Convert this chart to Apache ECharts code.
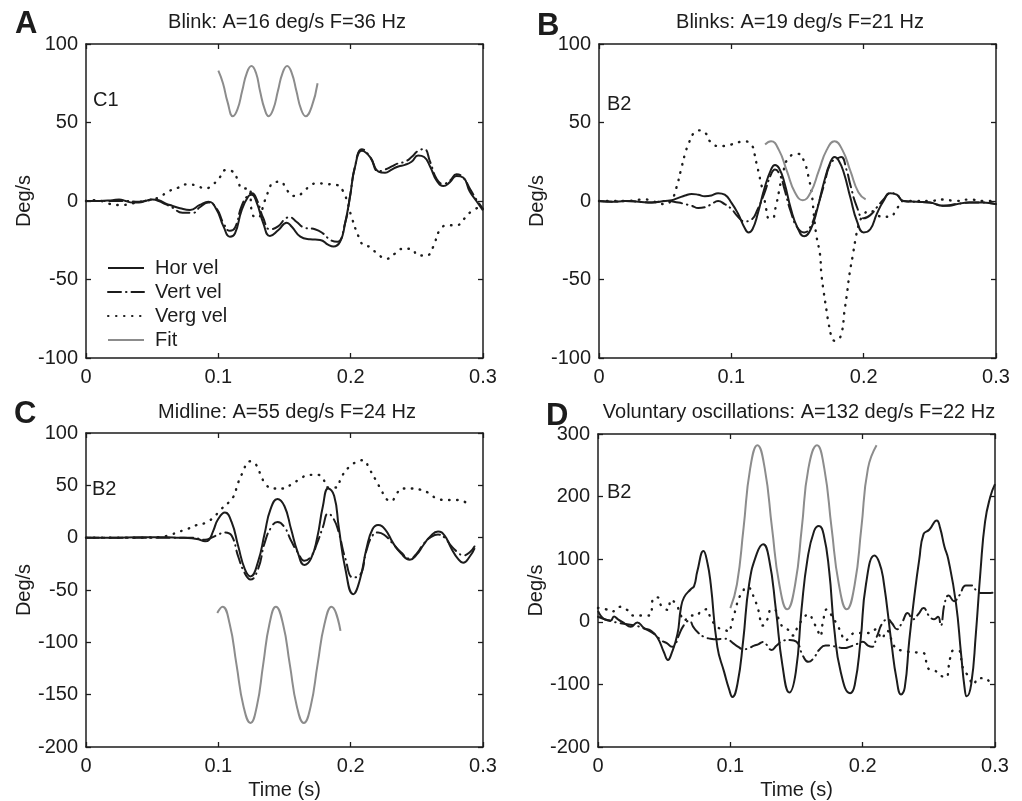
<!DOCTYPE html>
<html>
<head>
<meta charset="utf-8">
<script src="https://cdn.jsdelivr.net/npm/echarts@6/dist/echarts.min.js"></script>
<style>
html, body { margin: 0; padding: 0; background: #fff; }
#main { width: 1022px; height: 801px; }
</style>
</head>
<body>
<div id="main"></div>
<script>
// ---- panel A : blink, C1 ----
var horA = [[0,0],[0.01,0],[0.02,0.5],[0.025,1],[0.03,0],[0.035,-1],[0.04,-1],[0.045,0],[0.05,1],[0.055,0.5],[0.06,-1.5],[0.065,-3],[0.071,-4.6],[0.0786,-5.7],[0.086,-2.5],[0.0925,-0.4],[0.0988,-5.7],[0.1038,-16],[0.1088,-22.7],[0.1126,-20.6],[0.1177,-5.7],[0.1227,3],[0.1252,4],[0.129,-1],[0.134,-14.2],[0.139,-22.3],[0.1454,-18.5],[0.1517,-13.8],[0.1555,-16.4],[0.162,-22.7],[0.1693,-24.4],[0.1769,-24.8],[0.1832,-28],[0.187,-29],[0.192,-26],[0.1958,-14.2],[0.1995,2.7],[0.2033,21.8],[0.2084,32],[0.2147,28],[0.221,18.7],[0.226,18],[0.231,20],[0.236,22],[0.241,23],[0.246,25],[0.251,29],[0.2555,28],[0.26,22],[0.265,13],[0.27,9.5],[0.275,12],[0.28,16],[0.285,15],[0.29,6],[0.295,0],[0.3,-6]];
var vertA = [[0,0],[0.01,0],[0.02,0],[0.03,0],[0.04,-0.5],[0.05,1],[0.055,0],[0.06,-2],[0.065,-4],[0.073,-7.5],[0.081,-7.5],[0.086,-4],[0.0925,-1],[0.0988,-5],[0.1038,-14],[0.1088,-19],[0.1126,-17],[0.1177,-3],[0.1227,4],[0.1255,5],[0.129,1],[0.134,-11],[0.139,-18],[0.1454,-16],[0.151,-11],[0.154,-10.4],[0.159,-13.2],[0.165,-17],[0.173,-18],[0.179,-20.6],[0.185,-25],[0.19,-26],[0.1958,-14],[0.1995,3],[0.2033,22],[0.2084,33],[0.2147,28],[0.221,19],[0.226,20],[0.231,22],[0.236,24],[0.241,25],[0.246,28],[0.251,32],[0.2555,33],[0.26,25],[0.265,14],[0.27,11],[0.275,13],[0.28,17],[0.285,15],[0.29,8],[0.295,1],[0.3,-5]];
var vergA = [[0,0],[0.008,0.6],[0.015,-1],[0.022,-2.5],[0.028,-2.5],[0.035,-1.5],[0.042,-0.4],[0.05,1],[0.056,2.7],[0.062,6],[0.0697,8.5],[0.076,10.6],[0.083,10],[0.09,8],[0.096,10.6],[0.101,15],[0.1056,19.7],[0.111,18.7],[0.1147,13.4],[0.118,8],[0.1235,8],[0.1255,-8],[0.1295,-10.6],[0.1353,0.6],[0.1378,6],[0.1416,11.7],[0.147,12.3],[0.1517,7],[0.1575,3.2],[0.164,5.3],[0.169,9.6],[0.175,11.3],[0.182,10.8],[0.1895,10.2],[0.1945,6],[0.197,0.6],[0.201,-11],[0.206,-22.7],[0.2095,-28],[0.2144,-29.3],[0.2207,-34],[0.227,-36.8],[0.2333,-33.6],[0.2396,-30.4],[0.2459,-30.4],[0.251,-34.7],[0.2572,-34.7],[0.2623,-29.3],[0.2673,-18.6],[0.2736,-15.4],[0.28,-15.4],[0.2862,-11],[0.2925,-5.8],[0.3,-3.6]];
var fitA = [[0.1,83],[0.1035,75],[0.107,63],[0.111,54],[0.1145,58.5],[0.118,70],[0.1215,81.5],[0.125,86],[0.1285,81.5],[0.1315,70],[0.135,58.5],[0.138,54],[0.1415,58.5],[0.145,70],[0.1485,81.5],[0.152,86],[0.1555,81.5],[0.159,70],[0.1625,58.5],[0.166,54],[0.1705,60],[0.175,75]];

// ---- panel B : blinks, B2 ----
var horB = [[0,0],[0.01,-0.5],[0.02,0],[0.03,-0.5],[0.04,-1],[0.05,0],[0.055,0.5],[0.06,2],[0.065,3.5],[0.07,4.5],[0.075,4],[0.08,3],[0.085,3.5],[0.09,5],[0.095,4],[0.1,-1],[0.105,-8],[0.11,-17],[0.113,-20],[0.116,-18],[0.12,-8],[0.125,8],[0.13,20],[0.133,23],[0.136,21],[0.14,12],[0.145,-5],[0.15,-17],[0.155,-22.5],[0.16,-18],[0.165,-5],[0.17,12],[0.175,25],[0.178,28],[0.181,26],[0.185,18],[0.19,2],[0.195,-13],[0.2,-20],[0.205,-18],[0.21,-8],[0.215,0],[0.22,5],[0.225,4],[0.23,0],[0.24,-0.5],[0.25,-1],[0.26,-3],[0.265,-3],[0.27,-2],[0.28,-1],[0.29,-1],[0.3,-2]];
var vertB = [[0,0],[0.01,-0.5],[0.02,0],[0.03,-0.5],[0.04,-1],[0.05,0],[0.06,-1],[0.065,-2],[0.07,-3],[0.075,-4.5],[0.08,-4],[0.085,-2],[0.09,0],[0.095,-2],[0.1,-5],[0.105,-10],[0.11,-13],[0.115,-12],[0.12,-5],[0.125,5],[0.13,17],[0.133,20],[0.137,16],[0.14,8],[0.145,-7],[0.15,-17],[0.155,-20],[0.16,-16],[0.165,-4],[0.17,10],[0.175,24],[0.18,27],[0.183,28],[0.187,20],[0.19,10],[0.195,-4],[0.2,-11],[0.205,-9],[0.21,-4],[0.215,1],[0.22,5],[0.225,4],[0.23,0],[0.24,-0.5],[0.25,-1],[0.26,-3],[0.27,-2],[0.28,-1],[0.29,-1],[0.3,-2]];
var vergB = [[0,0],[0.01,0],[0.02,0],[0.035,1],[0.04,0],[0.05,-2],[0.055,1],[0.0583,8],[0.062,20],[0.065,30],[0.0675,36],[0.0713,43],[0.075,45],[0.0807,43],[0.0839,38],[0.09,35],[0.095,35],[0.1,36],[0.1104,38],[0.1158,35],[0.1175,30],[0.119,24],[0.1207,18],[0.1225,11],[0.1243,5],[0.1263,-5],[0.1285,-11],[0.131,-11],[0.1335,-4],[0.136,6],[0.139,18],[0.1438,28],[0.1505,30],[0.1556,24],[0.1573,18.7],[0.159,13],[0.161,3],[0.1625,-10],[0.1644,-22.7],[0.167,-34],[0.168,-46],[0.17,-59],[0.172,-70],[0.1735,-78],[0.176,-87],[0.178,-89],[0.1805,-88.5],[0.1836,-83],[0.1853,-71.5],[0.1874,-59],[0.1894,-46],[0.1917,-35],[0.1937,-25],[0.196,-16],[0.199,-10],[0.205,-6],[0.21,-9],[0.215,-10],[0.22,-10],[0.225,-5],[0.23,0],[0.24,0],[0.25,0],[0.26,1],[0.27,0],[0.28,1],[0.29,0],[0.3,0]];
var fitB = [[0.1255,36],[0.13,38],[0.136,32.4],[0.142,19],[0.148,5.6],[0.154,0.5],[0.16,5.6],[0.166,19],[0.172,32.4],[0.178,38],[0.184,32.4],[0.19,19],[0.196,5.6],[0.2015,1]];

// ---- panel C : midline, B2 ----
var horC = [[0,0],[0.02,0],[0.04,0.5],[0.06,0.5],[0.07,0],[0.08,-0.5],[0.085,-1.5],[0.09,-3.5],[0.093,-2],[0.096,6],[0.1,18],[0.105,24],[0.11,15],[0.115,-8],[0.12,-30],[0.1243,-37],[0.13,-23],[0.135,4],[0.1394,27],[0.1447,37],[0.15,30],[0.155,8],[0.16,-14],[0.165,-26],[0.17,-20],[0.1747,0],[0.179,30],[0.183,47],[0.1875,40],[0.191,10],[0.196,-30],[0.2019,-54],[0.207,-40],[0.212,-10],[0.2165,8],[0.2207,12],[0.226,8],[0.232,-5],[0.238,-15],[0.2447,-21],[0.25,-16],[0.255,-7],[0.26,1],[0.266,6],[0.271,2],[0.276,-10],[0.281,-20],[0.285,-24],[0.29,-18],[0.2937,-10]];
var vertC = [[0,0],[0.02,0],[0.04,0],[0.06,0],[0.08,0],[0.09,-2],[0.095,0],[0.1,3],[0.105,5],[0.11,2],[0.115,-18],[0.12,-34],[0.1243,-40],[0.13,-30],[0.135,-5],[0.14,10],[0.1447,15],[0.15,10],[0.155,-3],[0.16,-14],[0.165,-22],[0.17,-18],[0.1747,-5],[0.179,10],[0.183,23],[0.1875,17],[0.191,5],[0.196,-20],[0.2019,-38],[0.207,-36],[0.212,-12],[0.2165,2],[0.2207,5],[0.226,2],[0.232,-6],[0.238,-14],[0.2447,-20],[0.25,-15],[0.255,-6],[0.26,0],[0.266,3],[0.271,0],[0.276,-8],[0.281,-14],[0.285,-17],[0.29,-14],[0.2937,-8]];
var vergC = [[0,0],[0.02,0],[0.04,0],[0.055,0.5],[0.0647,3],[0.0685,5],[0.076,8],[0.0836,12],[0.0899,14],[0.0961,19],[0.1012,26],[0.1113,39],[0.1143,50],[0.1175,60],[0.1243,73],[0.1289,69],[0.1326,58],[0.1364,50],[0.1415,47],[0.149,47],[0.1553,51],[0.1616,56],[0.1686,60],[0.1754,60],[0.1792,56],[0.183,48],[0.1893,48],[0.193,58],[0.1993,68],[0.2056,73],[0.2094,74],[0.2144,65],[0.219,55],[0.2233,45],[0.227,37],[0.2308,35],[0.2346,42],[0.2396,47],[0.2459,47],[0.2522,46],[0.2585,43],[0.266,37],[0.2723,36],[0.2799,36],[0.2849,35],[0.29,30]];
var fitC = [[0.0992,-72],[0.1032,-66],[0.1085,-82],[0.1137,-121],[0.119,-161],[0.1243,-177],[0.1291,-161],[0.1339,-121],[0.1387,-82],[0.1435,-66],[0.1488,-82],[0.154,-121],[0.1593,-161],[0.1646,-177],[0.1698,-161],[0.175,-121],[0.1803,-82],[0.1855,-66],[0.1923,-89]];

// ---- panel D : voluntary oscillations, B2 ----
var horD = [[0,17.5],[0.005,4],[0.0096,2],[0.0121,8.5],[0.0151,4],[0.0197,-2],[0.0247,-8],[0.0297,-1],[0.0348,-10],[0.0398,-14],[0.0449,-25],[0.0499,-49],[0.0529,-61],[0.055,-54],[0.06,-20],[0.0625,20],[0.065,39],[0.0701,52],[0.0726,57],[0.0751,81],[0.0797,113],[0.0827,94],[0.0852,60],[0.0902,-40],[0.0953,-80],[0.0991,-108],[0.1016,-120],[0.1054,-99],[0.1097,-30],[0.1142,60],[0.12,109],[0.1248,124],[0.1293,100],[0.1344,20],[0.1394,-70],[0.1446,-113],[0.1495,-80],[0.1538,20],[0.1583,100],[0.1633,145],[0.167,153],[0.1705,140],[0.1747,81],[0.1785,-11],[0.1835,-81],[0.1905,-114],[0.194,-101],[0.1984,-30],[0.2025,60],[0.209,106],[0.2125,95],[0.2156,68],[0.222,-38],[0.2255,-90],[0.229,-116],[0.2318,-105],[0.2352,-30],[0.239,40],[0.2428,100],[0.246,140],[0.2503,147],[0.256,162],[0.2585,150],[0.2618,120],[0.2647,100],[0.2705,30],[0.2743,-50],[0.277,-105],[0.2786,-119],[0.282,-100],[0.2855,-20],[0.289,80],[0.2925,160],[0.2965,200],[0.3,220]];
var vertD = [[0,8],[0.005,4],[0.01,1],[0.016,-2],[0.022,-4],[0.028,-6],[0.034,-10],[0.04,-16],[0.044,-22],[0.048,-30],[0.052,-34],[0.056,-40],[0.058,-38],[0.061,-22],[0.065,-5],[0.069,2],[0.072,-8],[0.075,-16],[0.08,-24],[0.085,-27],[0.09,-28],[0.095,-27],[0.098,-28],[0.102,-34],[0.106,-40],[0.11,-44],[0.114,-42],[0.118,-38],[0.121,-36],[0.125,-32],[0.128,-38],[0.131,-45],[0.135,-38],[0.14,-30],[0.145,-29],[0.15,-32],[0.155,-55],[0.159,-64],[0.163,-58],[0.167,-45],[0.172,-38],[0.176,-38],[0.18,-40],[0.186,-42],[0.19,-40],[0.195,-36],[0.2,-32],[0.204,-38],[0.207,-40],[0.211,-22],[0.215,-2],[0.219,4],[0.222,-2],[0.226,-12],[0.23,0],[0.234,14],[0.238,4],[0.242,12],[0.246,22],[0.25,10],[0.254,4],[0.257,8],[0.259,-6],[0.262,30],[0.265,42],[0.269,33],[0.273,42],[0.278,58],[0.282,58],[0.286,50],[0.29,46],[0.295,46],[0.3,47]];
var vergD = [[0,22],[0.006,20],[0.01,16],[0.017,24],[0.022,19],[0.027,10],[0.033,10],[0.039,10],[0.042,38],[0.045,39],[0.048,25],[0.053,19],[0.055,35],[0.059,28],[0.062,14],[0.065,2],[0.07,10],[0.074,10],[0.078,17],[0.082,20],[0.085,7],[0.09,-8],[0.096,-13],[0.099,-16],[0.101,-1],[0.103,12],[0.1045,25],[0.107,40],[0.1094,47],[0.1114,55],[0.115,53],[0.118,37],[0.1207,23],[0.122,9],[0.1245,-6],[0.128,4],[0.131,20],[0.1346,17.5],[0.1366,4],[0.14,-9],[0.1446,-14],[0.1472,-22],[0.151,-8],[0.155,5],[0.159,12],[0.163,-1],[0.166,-14],[0.168,-23],[0.17,0],[0.173,20],[0.176,12],[0.18,-2],[0.183,-14],[0.187,-30],[0.19,-25],[0.194,-18],[0.2,-18],[0.2056,-18],[0.21,-12],[0.2144,-27],[0.218,-14],[0.2245,-41],[0.2296,-46],[0.235,-48],[0.241,-49],[0.246,-50],[0.2497,-75],[0.2547,-78],[0.2585,-86],[0.2636,-88],[0.2648,-74],[0.266,-59],[0.2686,-46],[0.2724,-46],[0.276,-75],[0.28,-87],[0.2837,-100],[0.2875,-90],[0.292,-90],[0.2963,-96],[0.3,-100]];
var fitD = [[0.1,22],[0.105,60],[0.11,150],[0.115,245],[0.1205,282],[0.126,245],[0.1315,150],[0.137,60],[0.143,20],[0.149,60],[0.154,150],[0.159,245],[0.1655,282],[0.171,245],[0.1765,150],[0.182,60],[0.188,20],[0.194,60],[0.199,150],[0.204,245],[0.2105,282]];

var xTicks = [0, 0.1, 0.2, 0.3];
var seriesNames = ['Hor vel', 'Vert vel', 'Verg vel', 'Fit'];

var FONT = '"Liberation Sans", Arial, Helvetica, sans-serif';
var INK = '#1c1c1c';

var panels = [
  { grid: {left: 86, top: 44, width: 397, height: 314}, ymin: -100, ymax: 100, ystep: 50, nameGap: 52, xname: '',
    hor: horA, vert: vertA, verg: vergA, fit: fitA },
  { grid: {left: 599, top: 44, width: 397, height: 314}, ymin: -100, ymax: 100, ystep: 50, nameGap: 43, xname: '',
    hor: horB, vert: vertB, verg: vergB, fit: fitB },
  { grid: {left: 86, top: 433, width: 397, height: 314}, ymin: -200, ymax: 100, ystep: 50, nameGap: 52, xname: 'Time (s)',
    hor: horC, vert: vertC, verg: vergC, fit: fitC },
  { grid: {left: 598, top: 434, width: 397, height: 314}, ymin: -200, ymax: 300, ystep: 100, nameGap: 42, xname: 'Time (s)',
    hor: horD, vert: vertD, verg: vergD, fit: fitD }
];

var axisLine = {show: true, onZero: false, lineStyle: {color: INK, width: 1.5}};
var axisTick = {show: true, inside: true, length: 5, lineStyle: {color: INK, width: 1.3}};

var grids = [], xAxes = [], yAxes = [], series = [];

panels.forEach(function (p, i) {
  grids.push(p.grid);
  // bottom + top x axes (box with inward ticks)
  xAxes.push({
    type: 'value', gridIndex: i, position: 'bottom', min: xTicks[0], max: xTicks[xTicks.length - 1], interval: 0.1,
    axisLine: axisLine, axisTick: axisTick, splitLine: {show: false},
    axisLabel: {color: INK, fontSize: 20, fontFamily: FONT, margin: 9,
      formatter: function (v) { return v === 0 ? '0' : v.toFixed(1); }},
    name: p.xname, nameLocation: 'middle', nameGap: 33,
    nameTextStyle: {color: INK, fontSize: 20, fontFamily: FONT}
  });
  xAxes.push({
    type: 'value', gridIndex: i, position: 'top', min: xTicks[0], max: xTicks[xTicks.length - 1], interval: 0.1,
    axisLine: axisLine, axisTick: axisTick, splitLine: {show: false}, axisLabel: {show: false}
  });
  yAxes.push({
    type: 'value', gridIndex: i, position: 'left', min: p.ymin, max: p.ymax, interval: p.ystep,
    axisLine: axisLine, axisTick: axisTick, splitLine: {show: false},
    axisLabel: {color: INK, fontSize: 20, fontFamily: FONT, margin: 8},
    name: 'Deg/s', nameLocation: 'middle', nameGap: p.nameGap,
    nameTextStyle: {color: INK, fontSize: 20, fontFamily: FONT}
  });
  yAxes.push({
    type: 'value', gridIndex: i, position: 'right', min: p.ymin, max: p.ymax, interval: p.ystep,
    axisLine: axisLine, axisTick: axisTick, splitLine: {show: false}, axisLabel: {show: false}
  });

  var common = {type: 'line', xAxisIndex: 2 * i, yAxisIndex: 2 * i, symbol: 'none', showSymbol: false,
    smooth: 0.5, animation: false, silent: true, itemStyle: {color: INK}};
  series.push(Object.assign({}, common, {name: 'Verg vel', data: p.verg,
    lineStyle: {color: INK, width: 2.4, type: [0.5, 7.5], cap: 'round'}}));
  series.push(Object.assign({}, common, {name: 'Vert vel', data: p.vert,
    lineStyle: {color: INK, width: 2, type: [13, 5, 0.5, 5], cap: 'round'}}));
  series.push(Object.assign({}, common, {name: 'Hor vel', data: p.hor,
    lineStyle: {color: INK, width: 2}}));
  series.push(Object.assign({}, common, {name: 'Fit', data: p.fit,
    itemStyle: {color: '#8c8c8c'}, lineStyle: {color: '#8c8c8c', width: 2}}));
});

var txt = function (text, left, top, size, bold) {
  return {text: text, left: left, top: top, padding: 0,
    textStyle: {color: INK, fontSize: size, fontWeight: bold ? 'bold' : 'normal', fontFamily: FONT}};
};
var ctr = function (text, cx, top) {
  var t = txt(text, cx, top, 20, false);
  t.textAlign = 'center';
  return t;
};

var titles = [
  txt('A', 15, 9, 31, true),
  txt('B', 537, 11, 31, true),
  txt('C', 14, 399, 31, true),
  txt('D', 546, 401, 31, true),
  ctr('Blink: A=16 deg/s F=36 Hz', 287, 12),
  ctr('Blinks: A=19 deg/s F=21 Hz', 800, 12),
  ctr('Midline: A=55 deg/s F=24 Hz', 287, 402),
  ctr('Voluntary oscillations: A=132 deg/s F=22 Hz', 799, 402),
  txt('C1', 93, 90, 20, false),
  txt('B2', 607, 94, 20, false),
  txt('B2', 92, 479, 20, false),
  txt('B2', 607, 482, 20, false)
];

var chart = echarts.init(document.getElementById('main'));
chart.setOption({
  backgroundColor: '#fff',
  animation: false,
  title: titles,
  legend: {
    data: seriesNames, orient: 'vertical', left: 107, top: 258, padding: 0,
    itemWidth: 36, itemHeight: 14, itemGap: 4, selectedMode: false,
    itemStyle: {opacity: 0},
    textStyle: {color: INK, fontSize: 20, fontFamily: FONT, padding: [0, 0, 0, 6]}
  },
  grid: grids,
  xAxis: xAxes,
  yAxis: yAxes,
  series: series
});
</script>
</body>
</html>
